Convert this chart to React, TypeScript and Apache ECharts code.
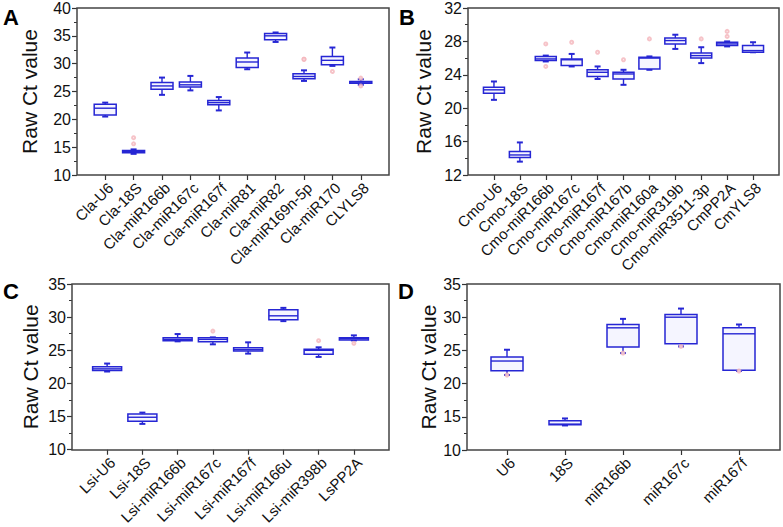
import React, { useEffect, useRef } from "react";
import * as echarts from "echarts";

// ---------- data ----------
const catsA = ["Cla-U6", "Cla-18S", "Cla-miR166b", "Cla-miR167c", "Cla-miR167f", "Cla-miR81", "Cla-miR82", "Cla-miR169n-5p", "Cla-miR170", "CLYLS8"];
// [min, Q1, median, Q3, max]
const boxA = [
  [20.5, 20.8, 22.0, 22.7, 23.0],
  [13.8, 14.0, 14.2, 14.4, 14.6],
  [24.4, 25.4, 26.0, 26.6, 27.5],
  [25.2, 25.8, 26.2, 26.7, 27.8],
  [21.6, 22.6, 23.0, 23.4, 24.0],
  [29.0, 29.3, 30.3, 31.0, 32.0],
  [33.9, 34.3, 35.0, 35.4, 35.6],
  [26.9, 27.3, 27.7, 28.2, 28.8],
  [29.6, 29.8, 30.6, 31.3, 32.9],
  [26.2, 26.5, 26.7, 26.8, 27.2],
];
const outA = [[1, 16.7], [1, 15.6], [7, 30.8], [7, 30.8], [8, 28.6], [9, 27.4], [9, 26.0]];

const catsB = ["Cmo-U6", "Cmo-18S", "Cmo-miR166b", "Cmo-miR167c", "Cmo-miR167f", "Cmo-miR167b", "Cmo-miR160a", "Cmo-miR319b", "Cmo-miR3511-3p", "CmPP2A", "CmYLS8"];
const boxB = [
  [21.0, 21.8, 22.2, 22.5, 23.2],
  [13.6, 14.1, 14.4, 14.8, 15.9],
  [25.6, 25.7, 25.9, 26.2, 26.3],
  [25.0, 25.1, 25.8, 25.9, 26.5],
  [23.5, 23.8, 24.3, 24.6, 25.0],
  [22.8, 23.5, 24.1, 24.3, 24.6],
  [24.6, 24.7, 26.0, 26.1, 26.2],
  [27.1, 27.7, 28.1, 28.4, 28.8],
  [25.4, 26.0, 26.3, 26.6, 27.3],
  [27.4, 27.5, 27.7, 27.9, 28.0],
  [26.7, 26.7, 26.9, 27.5, 27.9],
];
const outB = [[2, 27.7], [2, 25.0], [3, 27.9], [4, 26.7], [5, 25.8], [6, 28.3], [8, 28.3], [9, 29.2], [9, 28.6]];

const catsC = ["Lsi-U6", "Lsi-18S", "Lsi-miR166b", "Lsi-miR167c", "Lsi-miR167f", "Lsi-miR166u", "Lsi-miR398b", "LsPP2A"];
const boxC = [
  [21.8, 21.95, 22.2, 22.5, 23.0],
  [13.9, 14.3, 14.9, 15.4, 15.6],
  [26.35, 26.45, 26.65, 26.9, 27.45],
  [25.9, 26.3, 26.65, 26.9, 26.95],
  [24.5, 24.9, 25.1, 25.4, 26.2],
  [29.4, 29.6, 30.2, 31.1, 31.4],
  [24.0, 24.4, 25.0, 25.15, 25.45],
  [26.5, 26.55, 26.75, 26.9, 27.25],
];
const outC = [[3, 27.9], [6, 26.45], [7, 26.05]];

const catsD = ["U6", "18S", "miR166b", "miR167c", "miR167f"];
const boxD = [
  [21.3, 21.95, 23.4, 24.0, 25.1],
  [13.7, 13.8, 13.9, 14.4, 14.75],
  [24.6, 25.5, 28.4, 28.9, 29.75],
  [25.6, 26.0, 30.0, 30.4, 31.3],
  [21.9, 22.0, 27.5, 28.4, 28.9],
];
const outD = [[0, 21.3], [2, 24.6], [3, 25.6], [4, 21.9]];

const yTitle = "Raw Ct value";
const letters = ["A", "B", "C", "D"];

// ---------- layout ----------
const panels = [
  { cats: catsA, box: boxA, out: outA, yMin: 10, yMax: 40, yInt: 5, frame: [77, 8, 312, 167], dataL: 91, dataW: 284, bw: 22, nameGap: 37, letterXY: [3, 6] },
  { cats: catsB, box: boxB, out: outB, yMin: 12, yMax: 32, yInt: 4, frame: [468, 8, 311, 167], dataL: 481, dataW: 285, bw: 21, nameGap: 34, letterXY: [399, 6] },
  { cats: catsC, box: boxC, out: outC, yMin: 10, yMax: 35, yInt: 5, frame: [72, 284, 317, 166], dataL: 89.5, dataW: 282, bw: 29, nameGap: 31, letterXY: [3, 280] },
  { cats: catsD, box: boxD, out: outD, yMin: 10, yMax: 35, yInt: 5, frame: [467, 284, 313, 166], dataL: 478, dataW: 290, bw: 32, nameGap: 28, letterXY: [398, 280] },
];

const BLUE = "#2626d4";
const FONT = "'Liberation Sans', Arial, sans-serif";

export default function App() {
  const ref = useRef<HTMLDivElement>(null);
  useEffect(() => {
    if (!ref.current) return;
    const chart = echarts.init(ref.current, null, { renderer: "svg" });
    const grid: any[] = [];
    const xAxis: any[] = [];
    const yAxis: any[] = [];
    const series: any[] = [];
    const graphic: any[] = [];
    panels.forEach((p, i) => {
      const [fl, ft, fw, fh] = p.frame;
      grid.push({ left: p.dataL, top: ft, width: p.dataW, height: fh });
      xAxis.push({
        type: "category",
        gridIndex: i,
        data: p.cats,
        boundaryGap: true,
        axisLine: { show: false },
        axisTick: { show: true, alignWithLabel: true, length: 5, lineStyle: { color: "#333", width: 1.2 } },
        axisLabel: { rotate: 45, interval: 0, fontSize: 15, color: "#111", margin: 5, verticalAlign: "top", fontFamily: FONT },
        splitLine: { show: false },
      });
      yAxis.push({
        type: "value",
        gridIndex: i,
        min: p.yMin,
        max: p.yMax,
        interval: p.yInt,
        offset: p.dataL - fl,
        axisLine: { show: false },
        axisTick: { show: true, length: 5, lineStyle: { color: "#333", width: 1.2 } },
        minorTick: { show: true, splitNumber: 2, length: 3, lineStyle: { color: "#333", width: 1 } },
        axisLabel: { fontSize: 16, color: "#111", fontFamily: FONT, margin: 6 },
        splitLine: { show: false },
        name: yTitle,
        nameLocation: "middle",
        nameGap: p.nameGap,
        nameTextStyle: { fontSize: 21, color: "#111", fontFamily: FONT },
      });
      const bw = p.bw;
      series.push({
        type: "custom",
        xAxisIndex: i,
        yAxisIndex: i,
        encode: { x: 0, y: [1, 2, 3, 4, 5] },
        data: p.box.map((b, k) => [k, ...b]),
        renderItem: (params: any, api: any) => {
          const x = api.value(0);
          const lo = api.coord([x, api.value(1)]);
          const q1 = api.coord([x, api.value(2)]);
          const md = api.coord([x, api.value(3)]);
          const q3 = api.coord([x, api.value(4)]);
          const hi = api.coord([x, api.value(5)]);
          const cx = lo[0];
          const hw = bw / 2;
          const cw = 3;
          const ls = { stroke: BLUE, lineWidth: 1.4 };
          return {
            type: "group",
            children: [
              { type: "line", shape: { x1: cx, y1: q3[1], x2: cx, y2: hi[1] }, style: ls },
              { type: "line", shape: { x1: cx, y1: q1[1], x2: cx, y2: lo[1] }, style: ls },
              { type: "line", shape: { x1: cx - cw, y1: hi[1], x2: cx + cw, y2: hi[1] }, style: { stroke: BLUE, lineWidth: 2 } },
              { type: "line", shape: { x1: cx - cw, y1: lo[1], x2: cx + cw, y2: lo[1] }, style: { stroke: BLUE, lineWidth: 2 } },
              { type: "rect", shape: { x: cx - hw, y: q3[1], width: bw, height: Math.max(q1[1] - q3[1], 1) }, style: { fill: "#f5f5ff", stroke: BLUE, lineWidth: 1.5 } },
              { type: "line", shape: { x1: cx - hw, y1: md[1], x2: cx + hw, y2: md[1] }, style: { stroke: BLUE, lineWidth: 1.4 } },
            ],
          };
        },
      });
      series.push({
        type: "scatter",
        xAxisIndex: i,
        yAxisIndex: i,
        symbol: "emptyCircle",
        symbolSize: 3,
        itemStyle: { color: "#f4b4ba", borderWidth: 0.8 },
        data: p.out,
        z: 5,
      });
      graphic.push({
        type: "rect",
        shape: { x: fl, y: ft, width: fw, height: fh },
        style: { fill: "none", stroke: "#444", lineWidth: 1.5 },
        z: 10,
        silent: true,
      });
      graphic.push({
        type: "text",
        x: p.letterXY[0],
        y: p.letterXY[1],
        style: { text: letters[i], font: `bold 22px ${FONT}`, fill: "#000", textVerticalAlign: "top" },
        z: 10,
      });
    });
    chart.setOption({
      animation: false,
      backgroundColor: "#fff",
      grid,
      xAxis,
      yAxis,
      series,
      graphic,
    });
    return () => chart.dispose();
  }, []);
  return <div ref={ref} style={{ position: "fixed", left: 0, top: 0, width: 783, height: 527, background: "#fff" }} />;
}
